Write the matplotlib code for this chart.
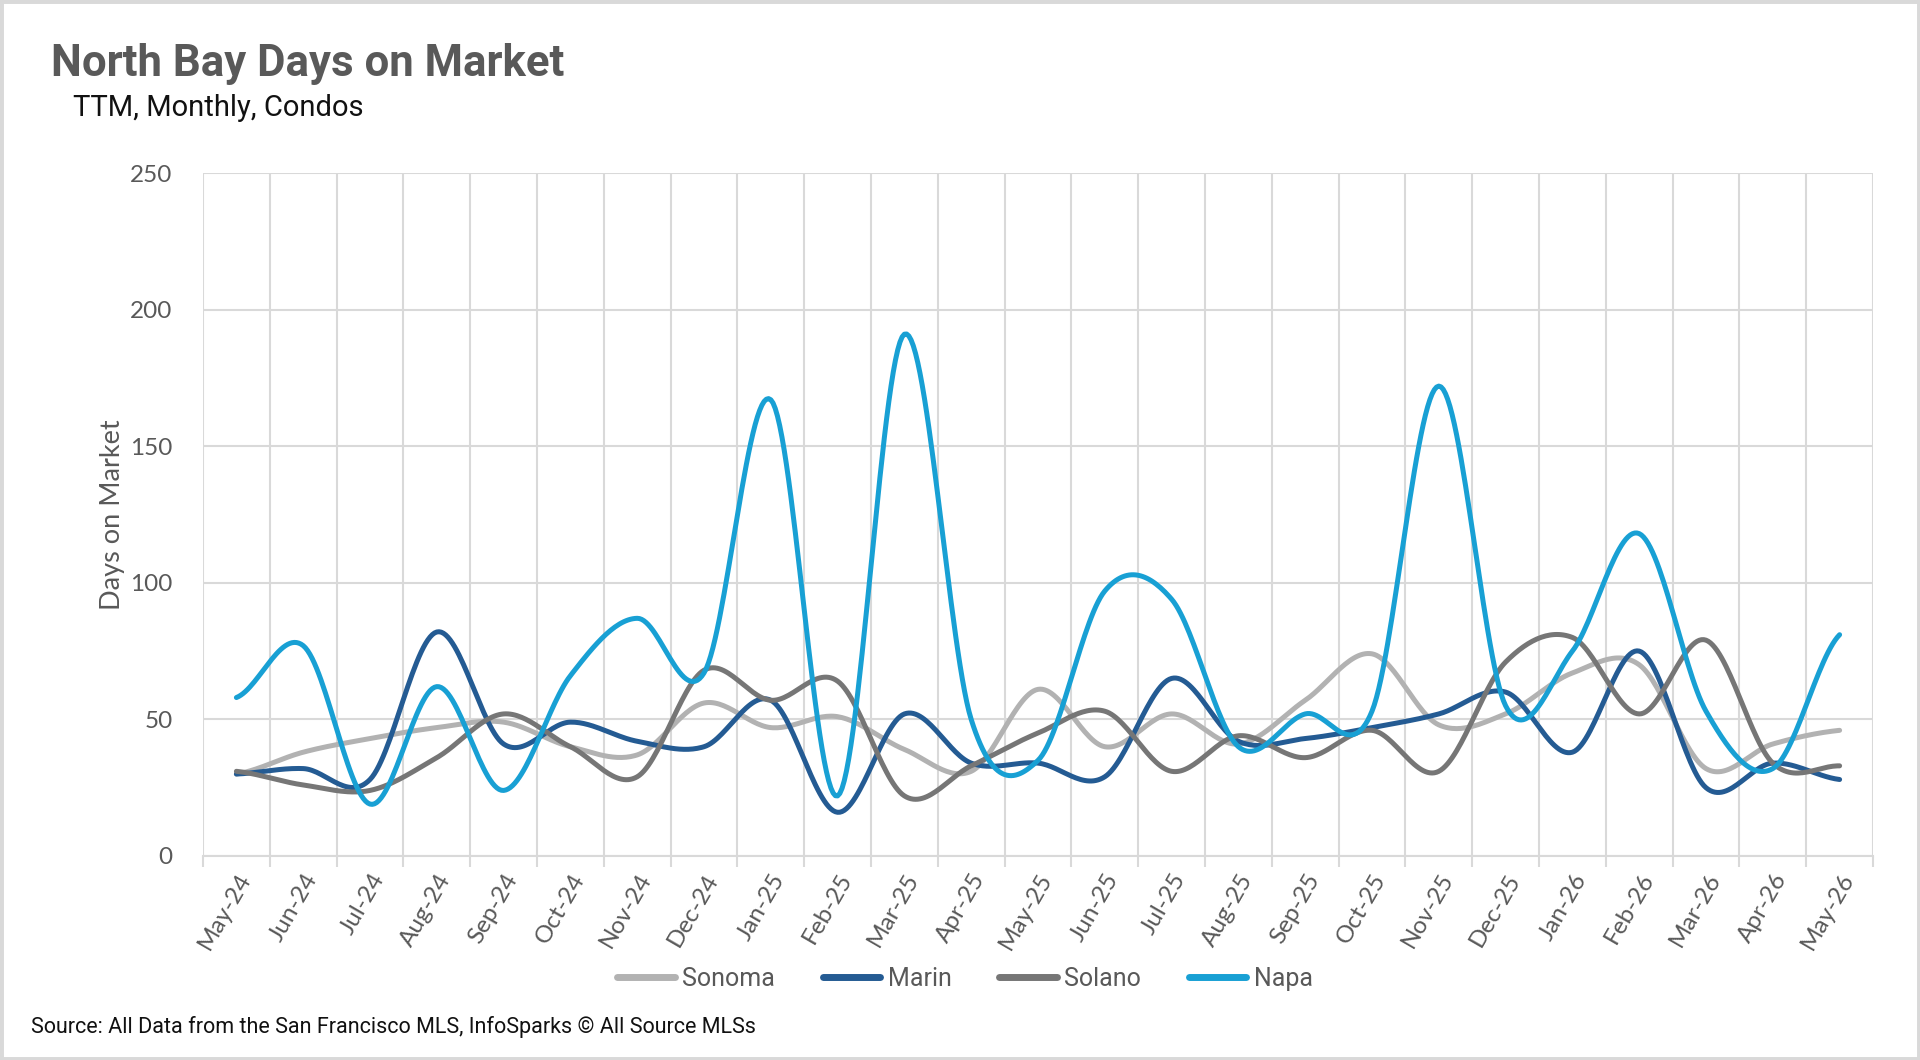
import numpy as np
import matplotlib
matplotlib.use("Agg")
import matplotlib.pyplot as plt
from matplotlib.patches import Rectangle

months = ["May-24", "Jun-24", "Jul-24", "Aug-24", "Sep-24", "Oct-24", "Nov-24", "Dec-24",
          "Jan-25", "Feb-25", "Mar-25", "Apr-25", "May-25", "Jun-25", "Jul-25", "Aug-25",
          "Sep-25", "Oct-25", "Nov-25", "Dec-25", "Jan-26", "Feb-26", "Mar-26", "Apr-26", "May-26"]

sonoma = [30, 38, 43, 47, 49, 40, 37, 56, 47, 51, 39, 31, 61, 40, 52, 41,
          57, 74, 48, 52, 67, 70, 32, 41, 46]
marin = [30, 32, 28, 82, 41, 49, 42, 40, 57, 16, 52, 34, 34, 29, 65, 42,
         43, 47, 52, 60, 38, 75, 25, 34, 28]
solano = [31, 26, 24, 36, 52, 40, 29, 68, 57, 64, 22, 33, 45, 53, 31, 44,
          36, 46, 31, 71, 80, 52, 79, 34, 33]
napa = [58, 77, 19, 62, 24, 66, 87, 67, 167, 22, 191, 50, 35, 97, 94, 40,
        52, 53, 172, 55, 75, 118, 53, 32, 81]

series = [("Sonoma", sonoma, "#B2B2B2"),
          ("Marin", marin, "#245B93"),
          ("Solano", solano, "#767676"),
          ("Napa", napa, "#18A0D4")]

yticks = [0, 50, 100, 150, 200, 250]


def smooth(vals, n=30):
    """Excel-style smoothed line (Catmull-Rom / Bezier through the points)."""
    y = np.asarray(vals, float)
    x = np.arange(len(y), dtype=float)
    xs, ys = [], []
    for i in range(len(y) - 1):
        p0 = y[i - 1] if i > 0 else y[i]
        p3 = y[i + 2] if i + 2 < len(y) else y[i + 1]
        p1, p2 = y[i], y[i + 1]
        m1 = (p2 - p0) / 2.0
        m2 = (p3 - p1) / 2.0
        t = np.linspace(0, 1, n, endpoint=(i == len(y) - 2))
        h00 = 2 * t**3 - 3 * t**2 + 1
        h10 = t**3 - 2 * t**2 + t
        h01 = -2 * t**3 + 3 * t**2
        h11 = t**3 - t**2
        ys.append(h00 * p1 + h10 * m1 + h01 * p2 + h11 * m2)
        xs.append(x[i] + t)
    return np.concatenate(xs), np.concatenate(ys)


tick_font = ["Lato", "DejaVu Sans"]
narrow = ["Liberation Sans Narrow", "Roboto", "DejaVu Sans"]

fig = plt.figure(figsize=(19.2, 10.6), dpi=100)
fig.patch.set_facecolor("white")
ax = fig.add_axes([203 / 1920, 1 - 856 / 1060, (1873 - 203) / 1920, (856 - 173) / 1060])

for name, vals, col in series:
    xs, ys = smooth(vals)
    ax.plot(xs, ys, color=col, lw=3.6, solid_capstyle="round", label=name)

ax.set_xlim(-0.5, len(months) - 0.5)
ax.set_ylim(0, 250)
ax.set_yticks(yticks)
ax.set_xticks(np.arange(len(months)))
ax.set_xticklabels(months, rotation=60, ha="right", rotation_mode="anchor",
                   family=tick_font, fontsize=17.5, color="#595959")
ax.set_xticks(np.arange(len(months) + 1) - 0.5, minor=True)
ax.tick_params(axis="x", which="major", length=0, pad=10)
ax.tick_params(axis="x", which="minor", length=8, color="#D9D9D9", width=1.5)
ax.tick_params(axis="y", length=0, pad=22, labelsize=17.5, labelcolor="#595959")
for lab in ax.get_yticklabels():
    lab.set_family(tick_font)
ax.grid(axis="y", color="#D9D9D9", lw=1.5)
ax.grid(axis="x", which="minor", color="#D9D9D9", lw=1.5)
ax.set_axisbelow(True)
for s in ["top", "right", "left"]:
    ax.spines[s].set_visible(False)
ax.spines["bottom"].set_color("#D9D9D9")
ax.spines["bottom"].set_linewidth(1.5)

ax.set_ylabel("Days on Market", family=tick_font, fontsize=19.5, color="#595959", labelpad=4)

fig.text(51 / 1920, 1 - 64 / 1060, "North Bay Days on Market", family=narrow, fontweight="bold",
         fontsize=31.5, color="#595959", va="center", ha="left")
fig.text(73 / 1920, 1 - 108 / 1060, "TTM, Monthly, Condos", family=narrow,
         fontsize=21, color="#111111", va="center", ha="left")
fig.text(31 / 1920, 1 - 1027 / 1060,
         "Source: All Data from the San Francisco MLS, InfoSparks \u00a9 All Source MLSs",
         family=narrow, fontsize=15.5, color="#111111", va="center", ha="left")

leg = fig.legend(loc="center", bbox_to_anchor=(965 / 1920, 1 - 979 / 1060), ncol=4, frameon=False,
                 prop={"family": narrow, "size": 18}, handlelength=2.3, handletextpad=0.3,
                 columnspacing=1.9)
for t in leg.get_texts():
    t.set_color("#595959")
for h in leg.legend_handles:
    h.set_linewidth(5)

fig.add_artist(Rectangle((0, 0), 1, 1, transform=fig.transFigure, fill=False,
                         edgecolor="#D9D9D9", lw=5))

fig.savefig("out.png", dpi=100)
